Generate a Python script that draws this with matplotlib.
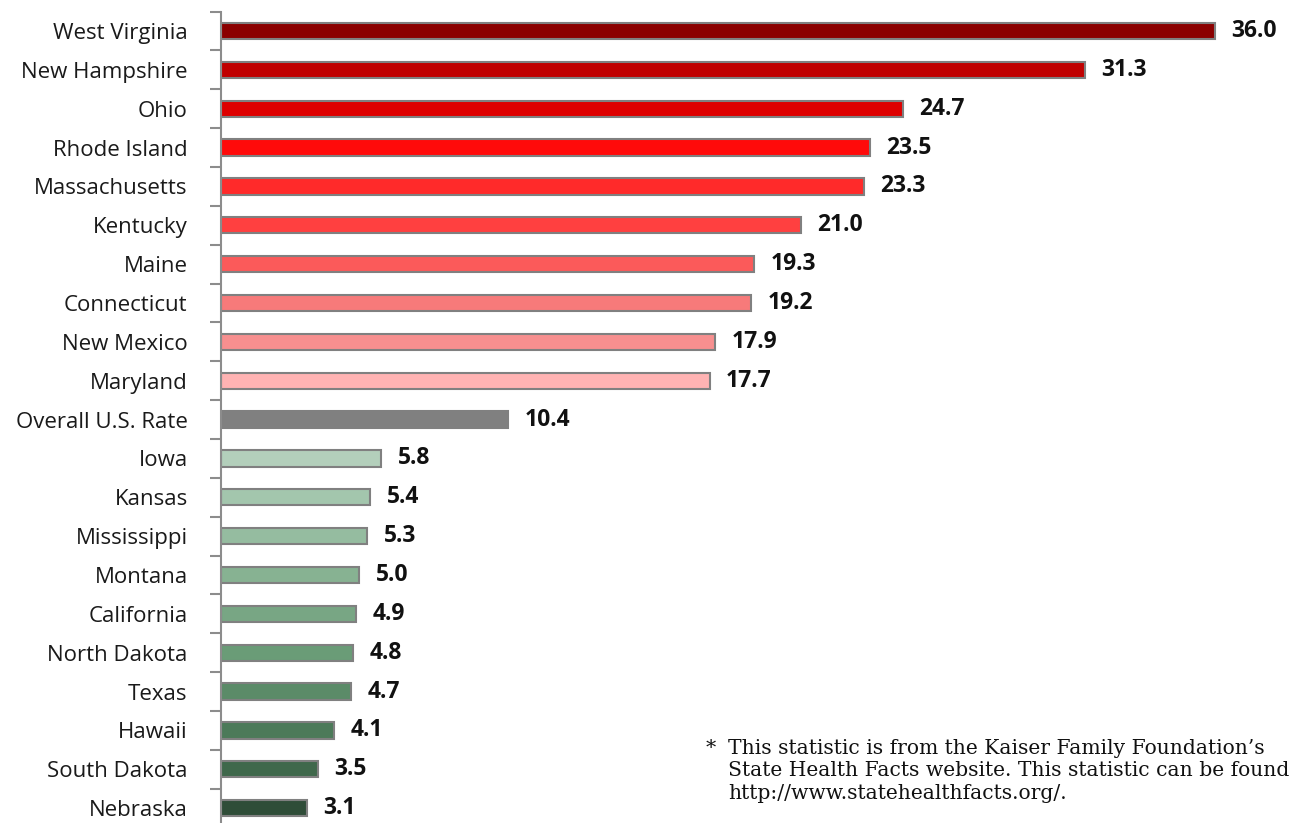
import matplotlib
matplotlib.use("Agg")
import matplotlib.pyplot as plt

states = ["West Virginia", "New Hampshire", "Ohio", "Rhode Island", "Massachusetts",
          "Kentucky", "Maine", "Connecticut", "New Mexico", "Maryland",
          "Overall U.S. Rate", "Iowa", "Kansas", "Mississippi", "Montana",
          "California", "North Dakota", "Texas", "Hawaii", "South Dakota", "Nebraska"]
rates = [36.0, 31.3, 24.7, 23.5, 23.3, 21.0, 19.3, 19.2, 17.9, 17.7,
         10.4, 5.8, 5.4, 5.3, 5.0, 4.9, 4.8, 4.7, 4.1, 3.5, 3.1]
bar_colors = ["#8b0000", "#c00000", "#de0000", "#ff0a0a", "#ff2a2a",
              "#ff4040", "#fb5a5a", "#f77a7a", "#f78f8f", "#ffb3b3",
              "#808080", "#b3cfbb", "#a3c6ad", "#95bca0", "#87b292",
              "#78a684", "#6a9c77", "#5b8b68", "#4c7a59", "#3f684b", "#2f4d38"]

fig = plt.figure(figsize=(12.9, 8.23), dpi=100)
ax = fig.add_axes([221 / 1290, -0.0055, 1 - 221 / 1290, 0.9914])

y = list(range(len(states)))
ax.barh(y, rates, height=0.42, color=bar_colors, edgecolor="#808080", linewidth=1.5)

# value labels at bar ends
for i, v in enumerate(rates):
    ax.text(v + 0.6, i, "%.1f" % v, va="center", ha="left",
            fontsize=16.5, fontweight="bold", family="Open Sans", color="#111111")

ax.set_ylim(20.5, -0.5)
ax.set_xlim(0, (1290 - 221) / 27.6)

ax.set_yticks(y)
ax.set_yticklabels(states, family="Open Sans", fontsize=16, color="#1a1a1a")
ax.tick_params(axis="y", which="major", length=0, pad=24)
ax.set_yticks([i - 0.5 for i in range(len(states) + 1)], minor=True)
ax.tick_params(axis="y", which="minor", length=8, width=1.5, color="#8c8c8c")

ax.set_xticks([])
for s in ["top", "right", "bottom"]:
    ax.spines[s].set_visible(False)
ax.spines["left"].set_color("#8c8c8c")
ax.spines["left"].set_linewidth(1.5)

note = ("This statistic is from the Kaiser Family Foundation\u2019s\n"
        "State Health Facts website. This statistic can be found\n"
        "http://www.statehealthfacts.org/.")
fig.text(706 / 1290, 1 - 739 / 823, "*", family="DejaVu Serif", fontsize=14.6,
         va="top", ha="left", color="#111111")
fig.text(728 / 1290, 1 - 739 / 823, note, family="DejaVu Serif", fontsize=14.6,
         va="top", ha="left", color="#111111", linespacing=1.23)

fig.savefig("out.png", dpi=100)
